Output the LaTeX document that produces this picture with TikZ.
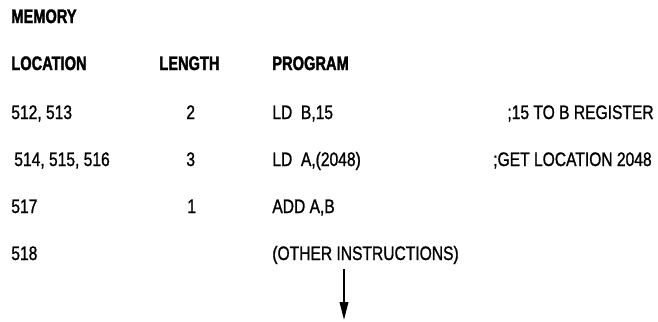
\documentclass[tikz,border=0pt]{standalone}
\usepackage{fontspec}
\setmainfont{Liberation Sans}[FakeStretch=0.8, FakeBold=1.1]
\newfontfamily\headfont{Liberation Sans Bold}[FakeStretch=0.75, FakeBold=1.6]
\usetikzlibrary{arrows.meta, positioning}
\tikzset{>=Stealth}
\tikzset{
  txt/.style={anchor=base west, inner sep=0pt, font=\fontsize{11.1}{13}\selectfont},
  head/.style={txt, font=\fontsize{11.1}{13}\selectfont\headfont},
  remark/.style={txt, anchor=base east},
  flow/.style={-{Triangle[length=3.6mm, width=1.7mm]}, line width=1.1pt}
}

\begin{document}
\begin{tikzpicture}[x=0.02cm, y=-0.02cm]
\useasboundingbox (0,0) rectangle (658,321);

\node[head] (mem) at (11,23) {MEMORY};
\node[head] (loc) at (11,70) {LOCATION};
\node[head] (len) at (159,70) {LENGTH};
\node[head] (prog) at (272,70) {PROGRAM};

\node[txt] (loc1) at (11,119) {512, 513};
\node[txt] (len1) at (186,119) {2};
\node[txt] (prog1) at (272,119) {LD\ \ B,15};
\node[remark] (rem1) at (654,119) {;15 TO B REGISTER};

\node[txt] (loc2) at (14,166) {514, 515, 516};
\node[txt] (len2) at (186,166) {3};
\node[txt] (prog2) at (272,166) {LD\ \ A,(2048)};
\node[remark] (rem2) at (652,166) {;GET LOCATION 2048};

\node[txt] (loc3) at (11,213) {517};
\node[txt] (len3) at (187,213) {1};
\node[txt] (prog3) at (272,213) {ADD A,B};

\node[txt] (loc4) at (11,260) {518};
\node[txt] (prog4) at (272,260) {(OTHER INSTRUCTIONS)};

\coordinate (next) at (344,320);
\draw[flow] ([yshift=-1mm]prog4.south -| next) -- (next);

\end{tikzpicture}
\end{document}
